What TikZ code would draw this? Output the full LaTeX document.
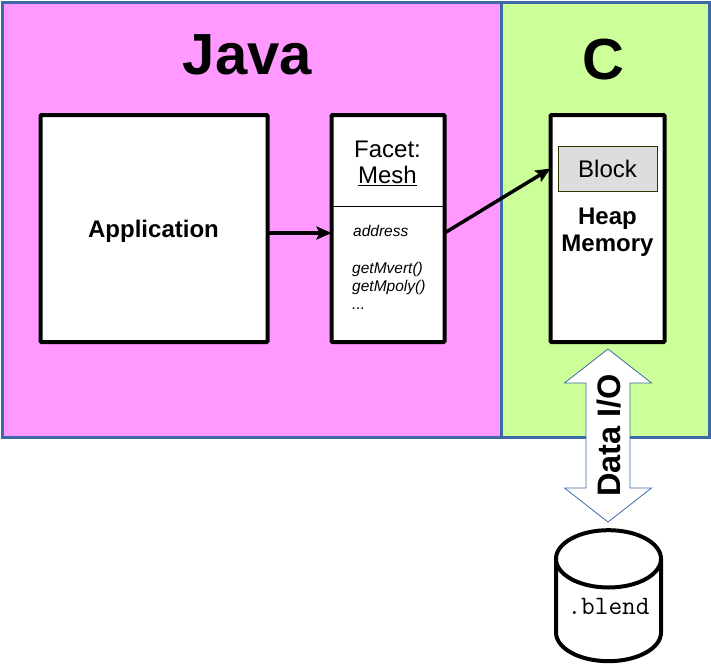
\documentclass[tikz,border=0pt]{standalone}
\usepackage{fontspec}
\setmainfont{Liberation Sans}
\usetikzlibrary{arrows.meta,shapes.arrows,shapes.geometric}
\definecolor{regJava}{HTML}{FF99FF}
\definecolor{regC}{HTML}{CCFF99}
\definecolor{regLine}{HTML}{3D6BA8}
\definecolor{blkGray}{HTML}{DDDDDD}
\definecolor{blkLine}{HTML}{333300}
\newcommand{\fsize}[1]{\fontsize{#1pt}{#1pt}\selectfont}
\begin{document}
\begin{tikzpicture}[x=1pt, y=-1pt,
  region/.style={draw=regLine, line width=3pt, inner sep=0pt, outer sep=0pt},
  box/.style={draw=black, line width=4pt, fill=white, rounded corners=1pt, inner sep=0pt, outer sep=0pt},
  title/.style={font=\fsize{58}\bfseries},
  lbl/.style={font=\fsize{24}, align=center},
  conn/.style={draw=black, line width=3.5pt, -{Stealth[length=15pt, width=13pt, inset=3pt]}}]
\useasboundingbox (0,0) rectangle (711,665);
% regions
\node[region, fill=regJava, minimum width=499pt, minimum height=435pt] (java) at (251.5,219.5) {};
\node[region, fill=regC, minimum width=208pt, minimum height=435pt] (c) at (605,219.5) {};
\node[title] (javat) at (247.5,55) {Java};
\node[title] (ct) at (603,60) {C};
% boxes
\node[box, minimum width=227pt, minimum height=227pt] (application) at (154,228.5) {};
\node[lbl, font=\fsize{24}\bfseries] (applabel) at (153.5,231) {Application};
\node[box, minimum width=113pt, minimum height=227pt] (facet) at (388,228.5) {};
\node[box, minimum width=114pt, minimum height=227pt] (heap) at (607.5,228.5) {};
% facet contents
\node[lbl, font=\fsize{24}, text height=17pt] (facetname) at (387.5,149.5) {Facet:};
\node[lbl, text height=17pt] (meshname) at (387.5,176.5) {\underline{Mesh}};
\coordinate (divl) at (331,206);
\coordinate (divr) at (445,206);
\draw[line width=1pt] (divl) -- (divr);
\node[font=\fsize{15.5}\itshape, anchor=west, inner sep=0pt, text depth=4pt] (address) at (353,233) {address};
\node[font=\fsize{15.5}\itshape, anchor=north west, align=left, inner sep=0pt] (members) at (352,262.5)
  {getMvert()\\[2.5pt]getMpoly()\\[2.5pt]...};
% heap contents
\node[draw=blkLine, line width=1pt, fill=blkGray, minimum width=99pt, minimum height=45pt,
  inner sep=0pt, font=\fsize{24}] (block) at (607.5,168.5) {Block};
\node[lbl, font=\fsize{24}\bfseries] (heaplabel) at (607.5,232) {Heap\\[2.5pt]Memory};
% connectors
\draw[conn] (application.east |- address) -- (facet.west |- address);
\draw[conn] (facet.east |- address) -- (heap.west |- block);
% data i/o
\node[shape=double arrow, draw=regLine, fill=white, line width=0.8pt, rotate=90,
  minimum height=173pt, minimum width=87pt, double arrow head extend=21.5pt,
  double arrow head indent=0pt, double arrow tip angle=104, inner sep=0pt,
  text height=34pt, text depth=9pt, font=\fsize{32.5}\bfseries] (dataio) at (608,435.5) {Data I/O\hspace{4pt}};
\node[shape=cylinder, shape border rotate=90, draw=black, line width=4pt, fill=white, aspect=0.7,
  minimum height=131pt, minimum width=105pt, inner sep=0pt,
  font=\ttfamily\fsize{26.5}] (blend) at (608.5,611) {\raisebox{9.5pt}{.blend}};
\end{tikzpicture}
\end{document}
